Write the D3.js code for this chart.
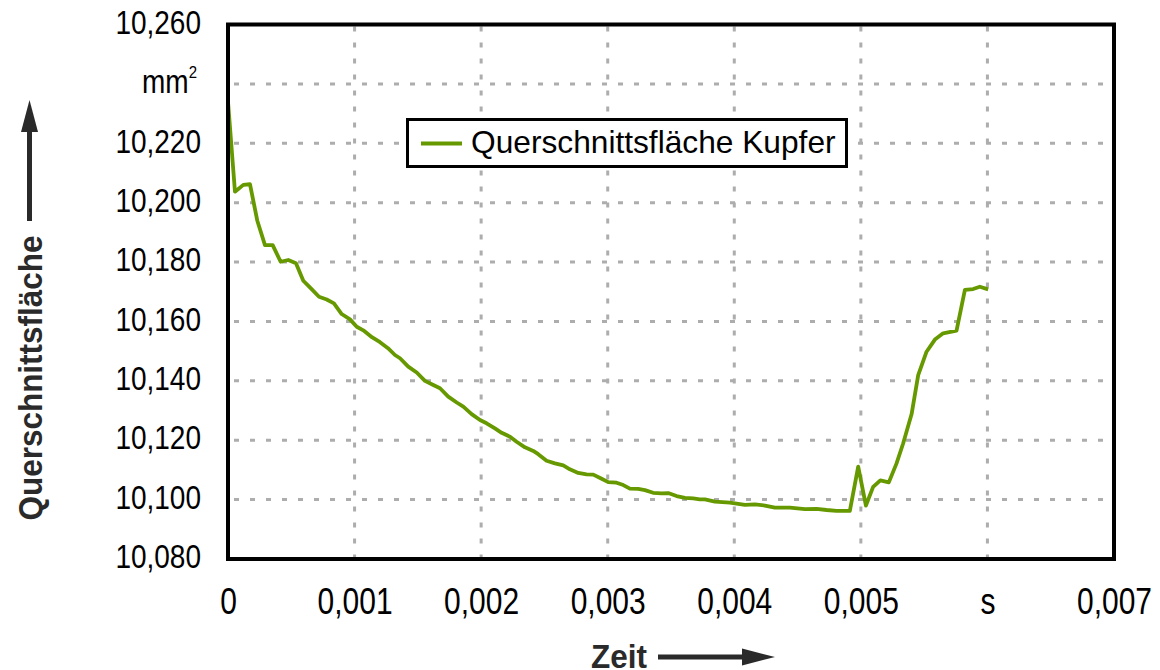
<!DOCTYPE html>
<html>
<head>
<meta charset="utf-8">
<script src="https://cdn.jsdelivr.net/npm/d3@7"></script>
<style>
  html, body { margin: 0; padding: 0; background: #fff; }
  svg { display: block; }
  text { font-family: "Liberation Sans", Arial, sans-serif; }
</style>
</head>
<body>
<svg id="chart" width="1160" height="670"></svg>
<script>
// Zeit in Sekunden
const zeit = [
  0, 0.000055, 0.000121, 0.000174, 0.000231, 0.000292, 0.000353, 0.000416, 0.000476, 0.000537,
  0.000595, 0.000653, 0.000719, 0.000780, 0.000837, 0.000898, 0.000964, 0.001017, 0.001069, 0.001137,
  0.001201, 0.001264, 0.001319, 0.001359, 0.001424, 0.001491, 0.001556, 0.001622, 0.001675, 0.001740,
  0.001807, 0.001859, 0.001925, 0.001991, 0.002043, 0.002109, 0.002162, 0.002228, 0.002280, 0.002346,
  0.002412, 0.002451, 0.002517, 0.002583, 0.002649, 0.002701, 0.002767, 0.002833, 0.002886, 0.002952,
  0.003004, 0.003070, 0.003123, 0.003175, 0.003241, 0.003294, 0.003359, 0.003426, 0.003478, 0.003544,
  0.003610, 0.003675, 0.003728, 0.003768, 0.003847, 0.003965, 0.004084, 0.004163, 0.004242, 0.004321,
  0.004439, 0.004558, 0.004650, 0.004729, 0.004808, 0.004913, 0.004979, 0.005040, 0.005097, 0.005154,
  0.005221, 0.005282, 0.005334, 0.005401, 0.005453, 0.005519, 0.005585, 0.005650, 0.005756, 0.005822,
  0.005887, 0.005940, 0.006006
];

// Querschnittsfläche Kupfer in mm²
const flaeche = [
  10.2340, 10.2037, 10.2060, 10.2062, 10.1940, 10.1857, 10.1857, 10.1801, 10.1807, 10.1796,
  10.1737, 10.1712, 10.1683, 10.1674, 10.1661, 10.1625, 10.1607, 10.1582, 10.1570, 10.1547,
  10.1530, 10.1510, 10.1487, 10.1476, 10.1448, 10.1428, 10.1400, 10.1386, 10.1375, 10.1347,
  10.1327, 10.1313, 10.1288, 10.1268, 10.1257, 10.1240, 10.1225, 10.1212, 10.1195, 10.1176,
  10.1164, 10.1153, 10.1131, 10.1122, 10.1115, 10.1102, 10.1090, 10.1085, 10.1084, 10.1070,
  10.1059, 10.1057, 10.1049, 10.1037, 10.1036, 10.1032, 10.1023, 10.1021, 10.1022, 10.1012,
  10.1006, 10.1004, 10.1001, 10.1001, 10.0993, 10.0990, 10.0982, 10.0984, 10.0980, 10.0973,
  10.0973, 10.0968, 10.0969, 10.0965, 10.0962, 10.0962, 10.1111, 10.0980, 10.1043, 10.1065,
  10.1058, 10.1122, 10.1189, 10.1288, 10.1419, 10.1498, 10.1539, 10.1560, 10.1569, 10.1706,
  10.1709, 10.1717, 10.1708
];

const xTicks = [0, 0.001, 0.002, 0.003, 0.004, 0.005, 0.006, 0.007];
const yTicks = [10.08, 10.10, 10.12, 10.14, 10.16, 10.18, 10.20, 10.22, 10.24, 10.26];
const seriesName = "Querschnittsfläche Kupfer";
const xTitle = "Zeit";
const yTitle = "Querschnittsfläche";
const xUnit = "s";        // ersetzt die Beschriftung 0,006
const yUnit = "mm";       // ersetzt die Beschriftung 10,240 (mit hochgestellter 2)

const svg = d3.select("#chart");
const plot = { left: 228, right: 1114, top: 24.5, bottom: 559 };

const x = d3.scaleLinear().domain([0, 0.007]).range([plot.left, plot.right]);
const y = d3.scaleLinear().domain([10.08, 10.26]).range([plot.bottom, plot.top]);

const comma = f => v => d3.format(f)(v).replace(".", ",");
const lineCol = "#669900";

// Gitternetz
const grid = svg.append("g").attr("stroke", "#adadad").attr("stroke-width", 3)
  .attr("stroke-dasharray", "5,11").attr("fill", "none");
grid.selectAll("line.h").data(yTicks.slice(1, -1)).join("line")
  .attr("class", "h")
  .attr("x1", plot.left + 6).attr("x2", plot.right)
  .attr("y1", d => y(d)).attr("y2", d => y(d));
grid.selectAll("line.v").data(xTicks.slice(1, -1)).join("line")
  .attr("class", "v")
  .attr("y1", plot.top + 2).attr("y2", plot.bottom)
  .attr("x1", d => x(d)).attr("x2", d => x(d));

// Messkurve
const line = d3.line().x((d, i) => x(zeit[i])).y(d => y(d));
svg.append("path")
  .datum(flaeche)
  .attr("fill", "none")
  .attr("stroke", lineCol)
  .attr("stroke-width", 3.8)
  .attr("stroke-linejoin", "round")
  .attr("d", line);

// Rahmen
svg.append("rect")
  .attr("x", plot.left).attr("y", plot.top)
  .attr("width", plot.right - plot.left).attr("height", plot.bottom - plot.top)
  .attr("fill", "none").attr("stroke", "#000").attr("stroke-width", 4);

// y-Achse (Beschriftung leicht in die Höhe gezogen)
const yAxis = svg.append("g")
  .attr("transform", `translate(${plot.left},0)`)
  .call(d3.axisLeft(y).tickValues(yTicks).tickSize(0).tickPadding(27)
    .tickFormat(comma(".3f")));
yAxis.select(".domain").remove();
yAxis.selectAll(".tick text")
  .attr("font-size", 28).attr("fill", "#000")
  .attr("transform", "translate(0,-1) scale(1,1.16)")
  .attr("dy", "0.3em");
yAxis.selectAll(".tick").filter(d => d === 10.24).select("text")
  .text(null)
  .call(t => {
    t.append("tspan").text(yUnit);
    t.append("tspan").text("2").attr("font-size", 15).attr("dy", "-0.85em");
  })
  .attr("dx", -4);

// x-Achse
const xAxis = svg.append("g")
  .attr("transform", `translate(0,${plot.bottom})`)
  .call(d3.axisBottom(x).tickValues(xTicks).tickSize(0).tickPadding(0)
    .tickFormat(d => d === 0 ? "0" : d === 0.006 ? xUnit : comma(".3f")(d)));
xAxis.select(".domain").remove();
xAxis.selectAll(".tick text")
  .attr("font-size", 30).attr("fill", "#000")
  .attr("y", 0).attr("dy", null)
  .attr("transform", "translate(0,55) scale(1,1.2)");

// Achsentitel mit Pfeilen
const arrowCol = "#2a2a2a";
svg.append("text")
  .attr("transform", "translate(42,378) rotate(-90) scale(1.05,1.12)")
  .attr("text-anchor", "middle")
  .attr("font-size", 30).attr("font-weight", "bold").attr("fill", arrowCol)
  .text(yTitle);
svg.append("line")
  .attr("x1", 29.5).attr("x2", 29.5).attr("y1", 221).attr("y2", 130)
  .attr("stroke", arrowCol).attr("stroke-width", 5);
svg.append("path")
  .attr("d", d3.line()([[21, 132], [29.5, 100], [38, 132]]) + "Z")
  .attr("fill", arrowCol);

svg.append("text")
  .attr("transform", "translate(619,668) scale(1.05,1.12)")
  .attr("text-anchor", "middle")
  .attr("font-size", 30).attr("font-weight", "bold").attr("fill", arrowCol)
  .text(xTitle);
svg.append("line")
  .attr("x1", 658).attr("x2", 745).attr("y1", 657).attr("y2", 657)
  .attr("stroke", arrowCol).attr("stroke-width", 5);
svg.append("path")
  .attr("d", d3.line()([[742, 648.5], [775, 657], [742, 665.5]]) + "Z")
  .attr("fill", arrowCol);

// Legende
const leg = svg.append("g");
leg.append("rect")
  .attr("x", 407.5).attr("y", 119.5).attr("width", 439).attr("height", 47)
  .attr("fill", "#fff").attr("stroke", "#000").attr("stroke-width", 3);
leg.append("line")
  .attr("x1", 421).attr("x2", 462).attr("y1", 143.5).attr("y2", 143.5)
  .attr("stroke", lineCol).attr("stroke-width", 3.8);
leg.append("text")
  .attr("x", 471).attr("y", 153)
  .attr("font-size", 31.7).attr("fill", "#000")
  .text(seriesName);
</script>
</body>
</html>
